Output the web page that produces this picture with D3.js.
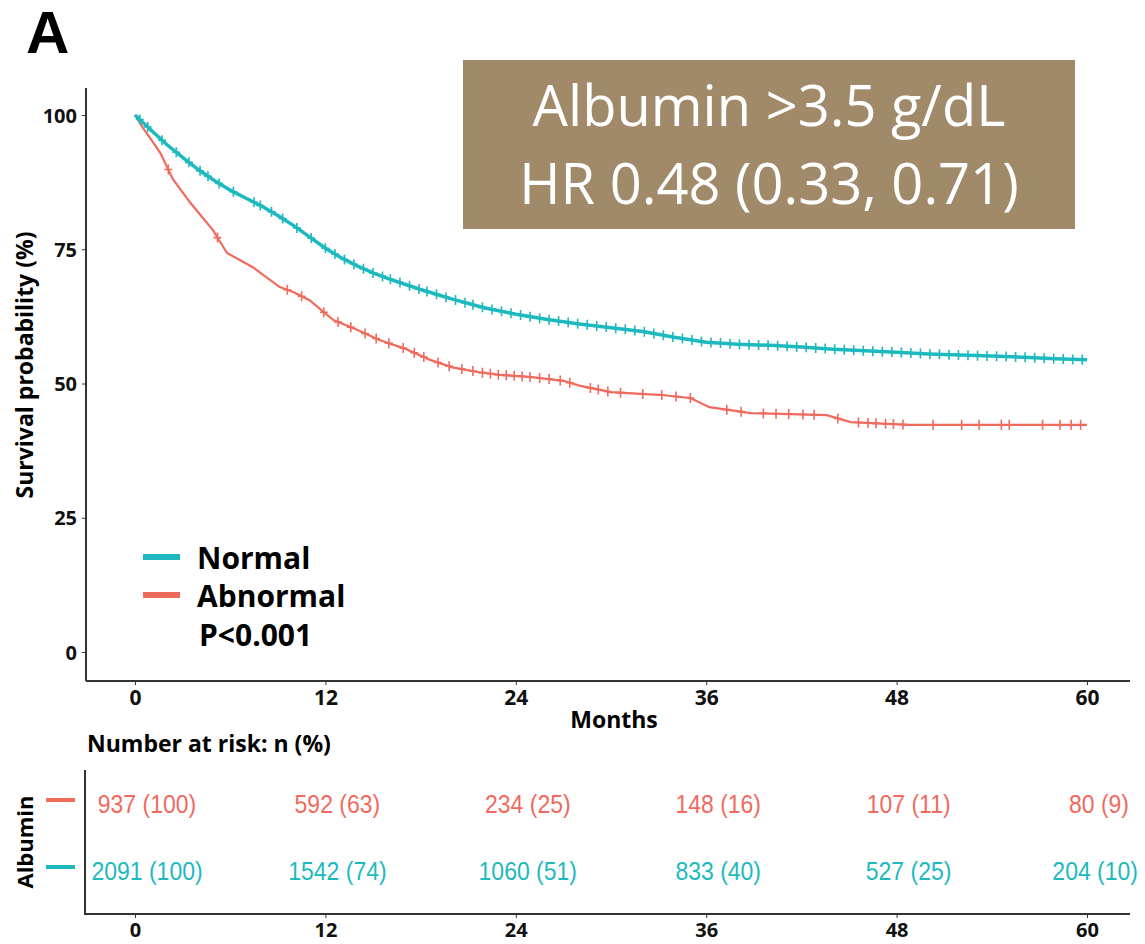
<!DOCTYPE html>
<html>
<head>
    <meta charset='utf-8'>
</head>
<style>
    body { margin: 0; background: #fff; }
    text { font-family: "Open Sans", "DejaVu Sans", sans-serif; }
    .tick-lbl { font-weight: bold; font-size: 20px; fill: #111; }
    .risk { font-family: "Liberation Sans", Arial, sans-serif; font-size: 25px; }
</style>
<body>
    <div id='chart'></div>
    <script src="https://d3js.org/d3.v7.min.js"></script>
    <script>
        // survival curves (months, %)
        var normalT = [0, 0.5, 1, 2, 3, 4, 5, 6, 7, 8, 9, 10, 11, 12, 13, 14, 15, 16, 18, 20, 22, 24, 26, 28, 30, 32, 34, 36, 38, 40, 42, 44, 46, 48, 50, 52, 54, 56, 58, 60];
        var normalS = [100, 98.6, 97.2, 94.5, 92.1, 89.8, 87.8, 86, 84.5, 83, 81.3, 79.4, 77.3, 75.2, 73.4, 71.9, 70.6, 69.5, 67.5, 65.7, 64.1, 62.9, 61.9, 61.1, 60.4, 59.7, 58.6, 57.7, 57.3, 57.1, 56.8, 56.4, 56.1, 55.8, 55.5, 55.3, 55.1, 54.9, 54.6, 54.4];
        var abnormalT = [0, 0.5, 1, 1.6, 2.4, 3.5, 4.9, 5.8, 7.4, 9.1, 10, 11, 12.5, 14, 15.4, 17, 18.6, 20, 21.7, 23, 25, 27, 28, 30, 33, 35, 36.2, 38.8, 43.6, 45.1, 48.8, 60];
        var abnormalS = [100, 97.6, 95.5, 92.9, 88, 83.6, 78.6, 74.3, 71.7, 68, 67, 65.5, 61.8, 60, 58.1, 56.5, 54.4, 53, 52.1, 51.6, 51.2, 50.5, 49.6, 48.4, 47.9, 47.3, 45.6, 44.5, 44.1, 42.8, 42.3, 42.3];

        // censoring times (months)
        var normalCens = [0.3, 0.8, 1.7, 2.6, 3.4, 4.1, 4.6, 5.3, 6.2, 7.5, 7.9, 8.6, 9.3, 10.2, 11.1, 12.0, 12.6, 13.2, 13.8, 14.4, 15.0, 15.6, 16.1, 16.7, 17.3, 17.9, 18.4, 19.0, 19.6, 20.2, 20.8, 21.3, 21.9, 22.5, 23.1, 23.7, 24.3, 24.9, 25.5, 26.1, 26.7, 27.3, 27.9, 28.5, 29.1, 29.7, 30.3, 30.9, 31.5, 32.1, 32.7, 33.3, 33.9, 34.5, 35.1, 35.7, 36.3, 36.9, 37.5, 38.1, 38.7, 39.3, 39.9, 40.5, 41.1, 41.7, 42.3, 42.9, 43.5, 44.1, 44.7, 45.3, 45.9, 46.5, 47.1, 47.7, 48.3, 48.9, 49.5, 50.1, 50.7, 51.3, 51.9, 52.5, 53.1, 53.7, 54.3, 54.9, 55.5, 56.1, 56.7, 57.3, 57.9, 58.5, 59.1, 59.7];
        var abnormalCens = [2.1, 5.2, 9.6, 10.5, 11.9, 12.8, 13.6, 14.5, 15.2, 16.0, 16.9, 17.6, 18.2, 19.1, 19.8, 20.6, 21.3, 21.9, 22.4, 22.9, 23.4, 23.9, 24.4, 24.9, 25.5, 26.1, 26.8, 27.4, 28.7, 29.2, 29.8, 30.6, 32.0, 33.2, 34.1, 35.0, 37.3, 38.2, 39.6, 40.4, 41.2, 42.1, 42.8, 44.3, 45.6, 46.2, 46.7, 47.3, 47.8, 48.4, 50.3, 52.1, 53.2, 54.6, 55.1, 57.2, 58.3, 59.0, 59.6];

        // number at risk
        var riskTimes = [0, 12, 24, 36, 48, 60];
        var riskAbnormal = ["937 (100)", "592 (63)", "234 (25)", "148 (16)", "107 (11)", "80 (9)"];
        var riskNormal = ["2091 (100)", "1542 (74)", "1060 (51)", "833 (40)", "527 (25)", "204 (10)"];

        var yTicks = [0, 25, 50, 75, 100];
        var colNormal = "#1DB9BE";
        var colAbnormal = "#F06A5E";

        var W = 1145, H = 944;
        var svg = d3.select('#chart').append('svg').attr('width', W).attr('height', H);

        var x = d3.scaleLinear().domain([0, 60]).range([135, 1087]);
        var y = d3.scaleLinear().domain([0, 100]).range([652, 115]);

        // panel letter
        svg.append('text').attr('x', 26).attr('y', 53)
            .style('font-family', '"Liberation Sans", Arial, sans-serif')
            .style('font-weight', 'bold').style('font-size', '60px').text('A');

        // axes (main)
        var yAxis = d3.axisLeft(y).tickValues(yTicks).tickSize(4).tickPadding(5);
        var gy = svg.append('g').attr('transform', 'translate(86,0)').call(yAxis);
        gy.select('.domain').attr('d', 'M0,88V681').attr('stroke', '#333').attr('stroke-width', 2);
        gy.selectAll('.tick line').attr('stroke', '#333');
        gy.selectAll('.tick text').attr('class', 'tick-lbl').attr('dy', '0.35em');

        var xAxis = d3.axisBottom(x).tickValues(riskTimes).tickSize(4).tickPadding(5);
        var gx = svg.append('g').attr('transform', 'translate(0,681)').call(xAxis);
        gx.select('.domain').attr('d', 'M86,0H1130').attr('stroke', '#333').attr('stroke-width', 2);
        gx.selectAll('.tick line').attr('stroke', '#333');
        gx.selectAll('.tick text').attr('class', 'tick-lbl').style('font-size', '21px');

        svg.append('text').attr('x', 614).attr('y', 728).attr('text-anchor', 'middle')
            .style('font-weight', 'bold').style('font-size', '23px').text('Months');

        svg.append('text').attr('transform', 'translate(33,365) rotate(-90)').attr('text-anchor', 'middle')
            .style('font-weight', 'bold').style('font-size', '23px').text('Survival probability (%)');

        // curves
        function curve(T, S) { return T.map(function(t, i) { return [t, S[i]]; }); }
        var line = d3.line().x(function(d) { return x(d[0]); }).y(function(d) { return y(d[1]); });

        function survAt(T, S, t) {
            var i = d3.bisectRight(T, t) - 1;
            if (i >= T.length - 1) return S[S.length - 1];
            var f = (t - T[i]) / (T[i + 1] - T[i]);
            return S[i] + f * (S[i + 1] - S[i]);
        }

        var series = [
            { T: abnormalT, S: abnormalS, cens: abnormalCens, col: colAbnormal, w: 2.2 },
            { T: normalT, S: normalS, cens: normalCens, col: colNormal, w: 3.5 }
        ];

        series.forEach(function(s) {
            svg.append('path').datum(curve(s.T, s.S)).attr('d', line)
                .attr('fill', 'none').attr('stroke', s.col).attr('stroke-width', s.w);
            svg.append('g').selectAll('path').data(s.cens).enter().append('path')
                .attr('d', function(t) {
                    var cx = x(t), cy = y(survAt(s.T, s.S, t));
                    return 'M' + (cx - 4) + ',' + cy + 'H' + (cx + 4) + 'M' + cx + ',' + (cy - 5) + 'V' + (cy + 5);
                })
                .attr('stroke', s.col).attr('stroke-width', 1.6);
        });

        // legend
        var legend = [{ name: 'Normal', col: colNormal, ly: 557 }, { name: 'Abnormal', col: colAbnormal, ly: 595 }];
        legend.forEach(function(l) {
            svg.append('line').attr('x1', 143).attr('x2', 180).attr('y1', l.ly).attr('y2', l.ly)
                .attr('stroke', l.col).attr('stroke-width', 6);
            svg.append('text').attr('x', 197).attr('y', l.ly + 12)
                .style('font-weight', 'bold').style('font-size', '30px').text(l.name);
        });
        svg.append('text').attr('x', 199).attr('y', 646)
            .style('font-weight', 'bold').style('font-size', '30px').text('P<0.001');

        // HR box
        svg.append('rect').attr('x', 463).attr('y', 60).attr('width', 612).attr('height', 169).attr('fill', '#A08A69');
        svg.append('text').attr('x', 769).attr('y', 126).attr('text-anchor', 'middle')
            .style('fill', '#fff').style('font-size', '56px').text('Albumin >3.5 g/dL');
        svg.append('text').attr('x', 769).attr('y', 204).attr('text-anchor', 'middle')
            .style('fill', '#fff').style('font-size', '56px').text('HR 0.48 (0.33, 0.71)');

        // number at risk
        svg.append('text').attr('x', 87).attr('y', 752)
            .style('font-weight', 'bold').style('font-size', '23px').text('Number at risk: n (%)');

        var rAxis = d3.axisBottom(x).tickValues(riskTimes).tickSize(4).tickPadding(5);
        var gr = svg.append('g').attr('transform', 'translate(0,914)').call(rAxis);
        gr.select('.domain').attr('d', 'M84,0H1130').attr('stroke', '#333').attr('stroke-width', 2);
        gr.selectAll('.tick line').attr('stroke', '#333');
        gr.selectAll('.tick text').attr('class', 'tick-lbl');
        svg.append('line').attr('x1', 85).attr('x2', 85).attr('y1', 770).attr('y2', 915)
            .attr('stroke', '#333').attr('stroke-width', 2);

        var rows = [{ vals: riskAbnormal, col: colAbnormal, ry: 800 }, { vals: riskNormal, col: colNormal, ry: 867 }];
        rows.forEach(function(r) {
            svg.append('line').attr('x1', 46).attr('x2', 75).attr('y1', r.ry).attr('y2', r.ry)
                .attr('stroke', r.col).attr('stroke-width', 4);
            svg.append('g').selectAll('text').data(r.vals).enter().append('text')
                .attr('class', 'risk')
                .attr('text-anchor', 'middle')
                .attr('transform', function(d, i) {
                    return 'translate(' + (x(riskTimes[i]) + 12) + ',' + (r.ry + 13) + ') scale(0.92,1)';
                })
                .style('fill', r.col)
                .text(function(d) { return d; })
                .each(function() {
                    // keep the last column inside the page
                    var b = this.getBoundingClientRect();
                    if (b.right > W - 5) {
                        var t = d3.select(this).attr('transform');
                        var m = /translate\(([^,]+),([^)]+)\)/.exec(t);
                        var nx = +m[1] - (b.right - (W - 7));
                        d3.select(this).attr('transform', 'translate(' + nx + ',' + m[2] + ') scale(0.92,1)');
                    }
                });
        });
        svg.append('text').attr('transform', 'translate(33,842) rotate(-90)').attr('text-anchor', 'middle')
            .style('font-weight', 'bold').style('font-size', '22px').text('Albumin');
    </script>
</body>
</html>
